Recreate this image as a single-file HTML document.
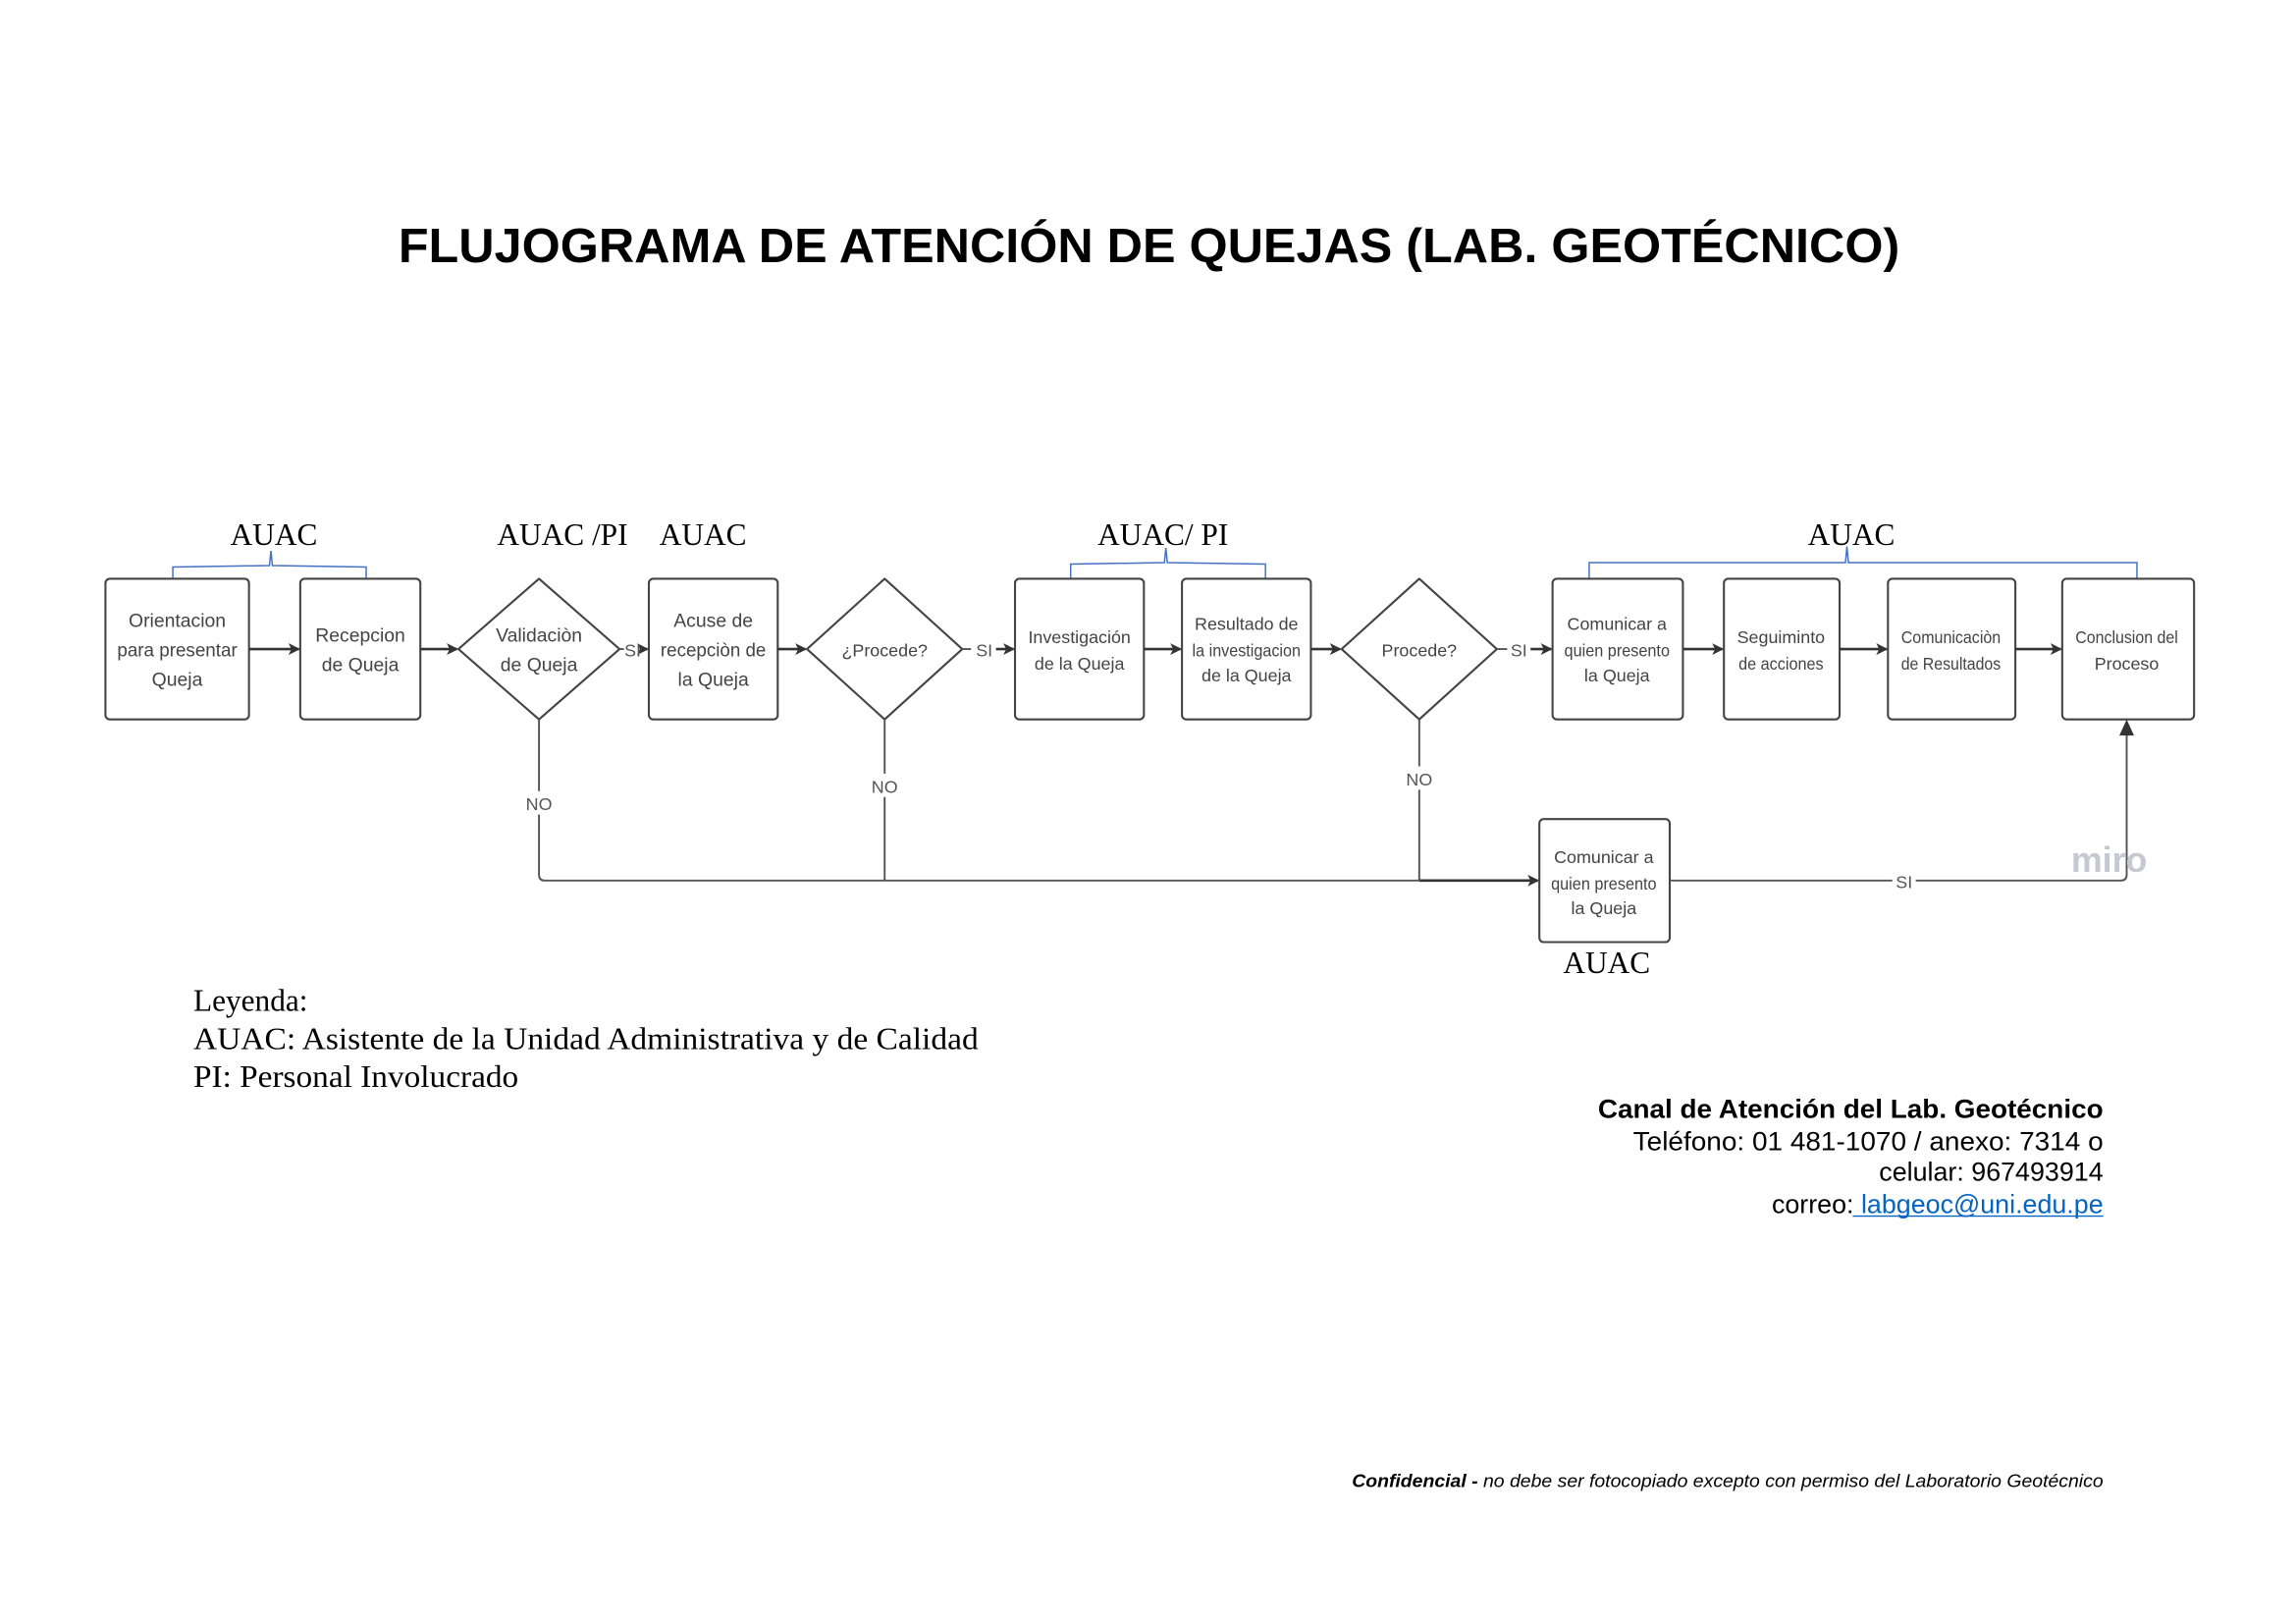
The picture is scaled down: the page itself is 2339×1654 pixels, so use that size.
<!DOCTYPE html>
<html><head><meta charset="utf-8"><style>
html,body{margin:0;padding:0;background:#fff;}
svg{display:block;}
.bx{font-family:"Liberation Sans",sans-serif;fill:#444;font-size:13px;text-anchor:middle;}
.tm{font-family:"Liberation Serif",serif;font-size:21px;fill:#000;}
.lb{font-family:"Liberation Sans",sans-serif;fill:#555;font-size:12px;text-anchor:middle;}
</style></head><body>
<svg width="2339" height="1654" viewBox="0 0 1567.6 1108.4" preserveAspectRatio="none" xmlns="http://www.w3.org/2000/svg">
<defs><marker id="a" markerWidth="8" markerHeight="8" refX="7" refY="4" orient="auto" markerUnits="userSpaceOnUse"><path d="M0,0 L8,4 L0,8 L2,4 Z" fill="#333"/></marker></defs>
<text x="272" y="179" textLength="1025" lengthAdjust="spacingAndGlyphs" font-family="Liberation Sans,sans-serif" font-weight="bold" font-size="33">FLUJOGRAMA DE ATENCIÓN DE QUEJAS (LAB. GEOTÉCNICO)</text>

<text class="tm" x="187" y="372" text-anchor="middle">AUAC</text>
<text class="tm" x="384" y="372" text-anchor="middle">AUAC /PI</text>
<text class="tm" x="480" y="372" text-anchor="middle">AUAC</text>
<text class="tm" x="794" y="372" text-anchor="middle">AUAC/ PI</text>
<text class="tm" x="1264" y="372" text-anchor="middle">AUAC</text>
<text class="tm" x="1097" y="664" text-anchor="middle">AUAC</text>

<g fill="none" stroke="#4472c4" stroke-width="1">
<path d="M118,395 L118,387 L184,386 L185,376 L186,386 L250,387 L250,395"/>
<path d="M731,395 L731,385 L795,384 L796,374 L797,384 L864,385 L864,395"/>
<path d="M1085,395 L1085,384 L1260,384 L1261,373 L1262,384 L1459,384 L1459,395"/>
</g>

<g fill="#fff" stroke="#444" stroke-width="1.4">
<rect x="72" y="395" width="98" height="96" rx="3"/>
<rect x="205" y="395" width="82" height="96" rx="3"/>
<path d="M368,395 L423,443 L368,491 L313,443 Z" stroke-linejoin="round"/>
<rect x="443" y="395" width="88" height="96" rx="3"/>
<path d="M604,395 L657,443 L604,491 L551,443 Z" stroke-linejoin="round"/>
<rect x="693" y="395" width="88" height="96" rx="3"/>
<rect x="807" y="395" width="88" height="96" rx="3"/>
<path d="M969,395 L1022,443 L969,491 L916,443 Z" stroke-linejoin="round"/>
<rect x="1060" y="395" width="89" height="96" rx="3"/>
<rect x="1177" y="395" width="79" height="96" rx="3"/>
<rect x="1289" y="395" width="87" height="96" rx="3"/>
<rect x="1408" y="395" width="90" height="96" rx="3"/>
<rect x="1051" y="559" width="89" height="84" rx="3"/>
</g>

<g stroke="#333" stroke-width="1.8" fill="none" marker-end="url(#a)">
<line x1="170" y1="443" x2="204" y2="443"/>
<line x1="287" y1="443" x2="312" y2="443"/>
<line x1="531" y1="443" x2="550" y2="443"/>
<line x1="781" y1="443" x2="806" y2="443"/>
<line x1="895" y1="443" x2="915" y2="443"/>
<line x1="1149" y1="443" x2="1176" y2="443"/>
<line x1="1256" y1="443" x2="1288" y2="443"/>
<line x1="1376" y1="443" x2="1407" y2="443"/>
<line x1="1045" y1="443" x2="1059" y2="443"/>
<line x1="680" y1="443" x2="692" y2="443"/>
<line x1="437" y1="443" x2="442" y2="443"/>
<line x1="969" y1="601" x2="1050" y2="601"/>
</g>
<g stroke="#555" stroke-width="1.3" fill="none">
<line x1="423" y1="443" x2="426" y2="443"/>
<line x1="657" y1="443" x2="663" y2="443"/>
<line x1="1022" y1="443" x2="1029" y2="443"/>
<path d="M368,491 L368,540 M368,556 L368,597 Q368,601 372,601 L969,601"/>
<path d="M604,491 L604,528 M604,544 L604,601"/>
<path d="M969,491 L969,523 M969,539 L969,601"/>
<path d="M1140,601 L1292,601 M1308,601 L1448,601 Q1452,601 1452,597 L1452,494"/>
</g>
<path d="M1447,502 L1452,491 L1457,502 Z" fill="#333"/>
<text class="lb" x="368" y="553">NO</text>
<text class="lb" x="604" y="541">NO</text>
<text class="lb" x="969" y="536">NO</text>
<text class="lb" x="432" y="448">SI</text>
<text class="lb" x="672" y="448">SI</text>
<text class="lb" x="1037" y="448">SI</text>
<text class="lb" x="1300" y="606">SI</text>
<text x="1440" y="595" font-family="Liberation Sans,sans-serif" font-size="24" font-weight="bold" fill="#c8c8d2" text-anchor="middle">miro</text>

<g class="bx">
<text x="121" y="428">Orientacion</text><text x="121" y="448" textLength="82" lengthAdjust="spacingAndGlyphs">para presentar</text><text x="121" y="468">Queja</text>
<text x="246" y="438">Recepcion</text><text x="246" y="458">de Queja</text>
<text x="368" y="438">Validaciòn</text><text x="368" y="458">de Queja</text>
<text x="487" y="428">Acuse de</text><text x="487" y="448" textLength="72" lengthAdjust="spacingAndGlyphs">recepciòn de</text><text x="487" y="468">la Queja</text>
<text x="604" y="448" font-size="12">¿Procede?</text>
<text x="737" y="439" font-size="12">Investigación</text><text x="737" y="457" font-size="12">de la Queja</text>
<text x="851" y="430" font-size="12">Resultado de</text><text x="851" y="448" font-size="12" textLength="74" lengthAdjust="spacingAndGlyphs">la investigacion</text><text x="851" y="465" font-size="12">de la Queja</text>
<text x="969" y="448" font-size="12">Procede?</text>
<text x="1104" y="430" font-size="12">Comunicar a</text><text x="1104" y="448" font-size="12" textLength="72" lengthAdjust="spacingAndGlyphs">quien presento</text><text x="1104" y="465" font-size="12">la Queja</text>
<text x="1216" y="439" font-size="12">Seguiminto</text><text x="1216" y="457" font-size="12" textLength="58" lengthAdjust="spacingAndGlyphs">de acciones</text>
<text x="1332" y="439" font-size="12" textLength="68" lengthAdjust="spacingAndGlyphs">Comunicaciòn</text><text x="1332" y="457" font-size="12" textLength="68" lengthAdjust="spacingAndGlyphs">de Resultados</text>
<text x="1452" y="439" font-size="12" textLength="70" lengthAdjust="spacingAndGlyphs">Conclusion del</text><text x="1452" y="457" font-size="12">Proceso</text>
<text x="1095" y="589" font-size="12">Comunicar a</text><text x="1095" y="607" font-size="12" textLength="72" lengthAdjust="spacingAndGlyphs">quien presento</text><text x="1095" y="624" font-size="12">la Queja</text>
</g>

<text class="tm" x="132" y="690">Leyenda:</text>
<text class="tm" x="132" y="716" textLength="536" lengthAdjust="spacingAndGlyphs">AUAC: Asistente de la Unidad Administrativa y de Calidad</text>
<text class="tm" x="132" y="742" textLength="222" lengthAdjust="spacingAndGlyphs">PI: Personal Involucrado</text>

<g font-family="Liberation Sans,sans-serif" font-size="18">
<text x="1091" y="763" font-weight="bold" textLength="345" lengthAdjust="spacingAndGlyphs">Canal de Atención del Lab. Geotécnico</text>
<text x="1115" y="785" textLength="321" lengthAdjust="spacingAndGlyphs">Teléfono: 01 481-1070 / anexo: 7314 o</text>
<text x="1436" y="806" text-anchor="end">celular: 967493914</text>
<text x="1436" y="828" text-anchor="end">correo: <tspan fill="#0563c1">labgeoc@uni.edu.pe</tspan></text>
</g>
<line x1="1265" y1="830" x2="1436" y2="830" stroke="#0563c1" stroke-width="1"/>
<text x="923" y="1015" font-family="Liberation Sans,sans-serif" font-size="12.5" font-style="italic" textLength="513" lengthAdjust="spacingAndGlyphs"><tspan font-weight="bold">Confidencial -</tspan> no debe ser fotocopiado excepto con permiso del Laboratorio Geotécnico</text>
</svg>
</body></html>
